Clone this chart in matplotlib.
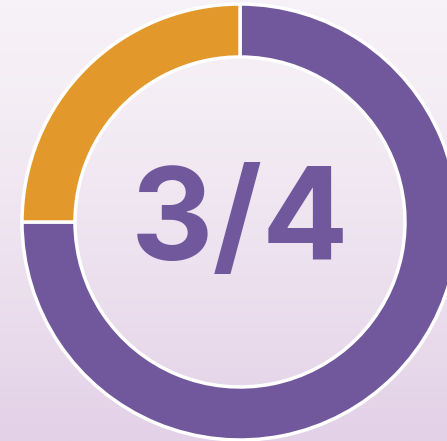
import numpy as np
import matplotlib.pyplot as plt

# Data
labels = ['Yes', 'No']
values = [3, 1]
colors = ['#71589C', '#E3982B']
center_text = '3/4'

W, H = 447, 441
fig = plt.figure(figsize=(W / 100, H / 100), dpi=100)
ax = fig.add_axes([0, 0, 1, 1])
ax.set_xlim(0, W)
ax.set_ylim(0, H)
ax.set_aspect('equal')
ax.axis('off')

# soft lavender background
grad = np.linspace(0, 1, 256).reshape(-1, 1)
top = np.array([0xF7, 0xF2, 0xF7]) / 255
bot = np.array([0xE3, 0xD1, 0xE7]) / 255
bg = top + (bot - top) * grad[..., None] ** 1.3
ax.imshow(bg, extent=[0, W, 0, H], origin='upper', aspect='auto', zorder=0)

# donut
ax.pie(values, colors=colors, startangle=90, counterclock=False,
       center=(240, H - 222), radius=218, frame=True,
       wedgeprops=dict(width=53, edgecolor='white', linewidth=2.5))
ax.set_xlim(0, W)
ax.set_ylim(0, H)
ax.axis('off')

ax.text(240, H - 226, center_text, ha='center', va='center',
        fontsize=92, fontweight='bold', color='#71589C',
        family=['Inter', 'DejaVu Sans'])

fig.savefig('out.png', dpi=100)
